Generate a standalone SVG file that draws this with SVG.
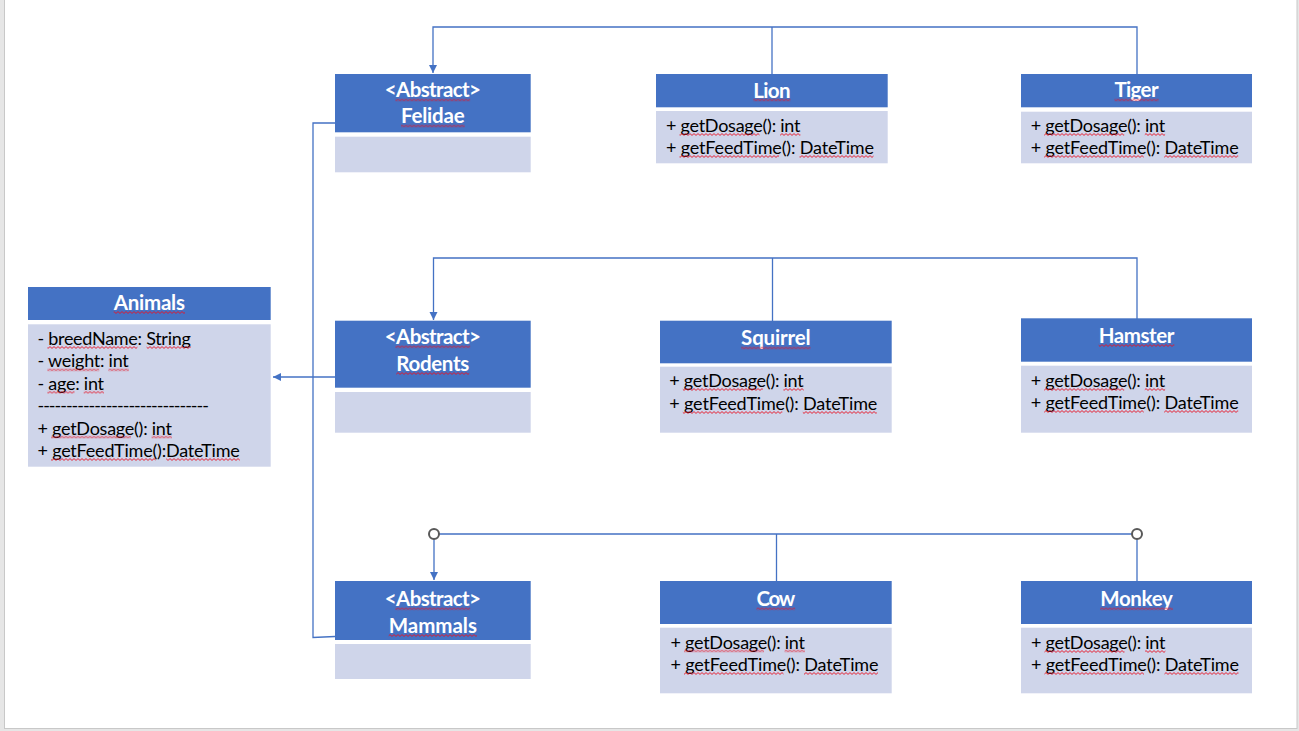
<svg xmlns="http://www.w3.org/2000/svg" width="1299" height="731" viewBox="0 0 1299 731">
<style>
.hd{fill:#4472C4}
.bd{fill:#CFD5EA}
.t{font-family:Lato,'Liberation Sans',sans-serif;font-size:20.5px;font-weight:bold;fill:#FFFFFF;text-anchor:middle}
.b{font-family:Lato,'Liberation Sans',sans-serif;font-size:18px;fill:#000000}
.c{fill:none;stroke:#4472C4;stroke-width:1.3}
.sq{fill:url(#wav)}
.ring{fill:#FFFFFF;stroke:#595959;stroke-width:2}
</style>
<defs>
<pattern id="wav" patternUnits="userSpaceOnUse" width="4" height="3">
<path d="M0,2.4 L2,0.6 L4,2.4" fill="none" stroke="#E81123" stroke-width="0.9"/>
</pattern>
<marker id="arr" markerUnits="userSpaceOnUse" markerWidth="9" markerHeight="9" refX="8" refY="4" orient="auto">
<path d="M0,0 L8,4 L0,8 z" fill="#4472C4"/>
</marker>
</defs>
<rect x="0" y="0" width="1299" height="731" fill="#E6E6E6"/>
<rect x="4.5" y="-2" width="1292.5" height="730.5" fill="#FFFFFF" stroke="#C8C8C8" stroke-width="1"/>

<g id="connectors">
<path class="c" d="M772,74 V27"/>
<path class="c" d="M1137,74 V27 H433 V73" marker-end="url(#arr)"/>
<path class="c" d="M772.5,321 V258"/>
<path class="c" d="M1137,319 V258 H433.5 V320" marker-end="url(#arr)"/>
<path class="c" d="M776.5,582 V534"/>
<path class="c" d="M1137,582 V534 H434 V580" marker-end="url(#arr)"/>
<path class="c" d="M335,123 H313 V637.5 L335,636.5"/>
<path class="c" d="M335,377 H273" marker-end="url(#arr)"/>
<circle class="ring" cx="434" cy="534" r="5"/>
<circle class="ring" cx="1137" cy="534" r="5"/>
</g>

<g id="animals">
<rect class="hd" x="28" y="287" width="242.7" height="33"/>
<rect class="bd" x="28" y="324.3" width="242.7" height="142.4"/>
<text class="t" x="149.3" y="310" textLength="71.3">Animals</text>
<text class="b" x="37.5" y="345" textLength="153.3">- breedName: String</text>
<text class="b" x="37.5" y="367.4" textLength="91.3">- weight: int</text>
<text class="b" x="37.5" y="389.8" textLength="66.5">- age: int</text>
<text class="b" x="37.5" y="412.2" textLength="171.4">------------------------------</text>
<text class="b" x="37.5" y="434.6" textLength="134.4">+ getDosage(): int</text>
<text class="b" x="37.5" y="457" textLength="202.3">+ getFeedTime():DateTime</text>
<rect class="sq" x="113.7" y="0" width="71.3" height="3" transform="translate(0,311)"/>
<rect class="sq" x="47.4" y="0" width="90" height="3" transform="translate(0,346)"/>
<rect class="sq" x="146.6" y="0" width="44.2" height="3" transform="translate(0,346)"/>
<rect class="sq" x="47.4" y="0" width="51.8" height="3" transform="translate(0,368.4)"/>
<rect class="sq" x="108.4" y="0" width="20.4" height="3" transform="translate(0,368.4)"/>
<rect class="sq" x="47.4" y="0" width="27.1" height="3" transform="translate(0,390.8)"/>
<rect class="sq" x="83.7" y="0" width="20.3" height="3" transform="translate(0,390.8)"/>
<rect class="sq" x="51" y="0" width="80" height="3" transform="translate(0,435.6)"/>
<rect class="sq" x="151.6" y="0" width="20.3" height="3" transform="translate(0,435.6)"/>
<rect class="sq" x="51" y="0" width="104.5" height="3" transform="translate(0,458)"/>
<rect class="sq" x="166.2" y="0" width="73.6" height="3" transform="translate(0,458)"/>
</g>

<g id="felidae">
<rect class="hd" x="335" y="74" width="195.7" height="58.3"/>
<rect class="bd" x="335" y="136.7" width="195.7" height="35.6"/>
<text class="t" x="432.8" y="97.3" textLength="96">&lt;Abstract&gt;</text>
<text class="t" x="432.8" y="123.3" textLength="63.7">Felidae</text>
<rect class="sq" x="395.4" y="0" width="74.8" height="3" transform="translate(0,98.5)"/>
<rect class="sq" x="401" y="0" width="63.7" height="3" transform="translate(0,124.5)"/>
</g>

<g id="lion">
<rect class="hd" x="656" y="74" width="231.7" height="33.3"/>
<rect class="bd" x="656" y="111" width="231.7" height="52.3"/>
<text class="t" x="771.9" y="97.5" textLength="37.2">Lion</text>
<text class="b" x="666" y="132" textLength="134.4">+ getDosage(): int</text>
<text class="b" x="666" y="154" textLength="208">+ getFeedTime(): DateTime</text>
<rect class="sq" x="753.3" y="0" width="37.2" height="3" transform="translate(0,98.5)"/>
<rect class="sq" x="679.5" y="0" width="80" height="3" transform="translate(0,133)"/>
<rect class="sq" x="780.1" y="0" width="20.3" height="3" transform="translate(0,133)"/>
<rect class="sq" x="679.5" y="0" width="99.5" height="3" transform="translate(0,155)"/>
<rect class="sq" x="799.5" y="0" width="74" height="3" transform="translate(0,155)"/>
</g>

<g id="tiger">
<rect class="hd" x="1021" y="74" width="231" height="33.3"/>
<rect class="bd" x="1021" y="111.7" width="231" height="51.6"/>
<text class="t" x="1136.5" y="97.3" textLength="44.2">Tiger</text>
<text class="b" x="1030.7" y="132" textLength="134.4">+ getDosage(): int</text>
<text class="b" x="1030.7" y="154" textLength="208">+ getFeedTime(): DateTime</text>
<rect class="sq" x="1114.4" y="0" width="44.2" height="3" transform="translate(0,98.5)"/>
<rect class="sq" x="1044.2" y="0" width="80" height="3" transform="translate(0,133)"/>
<rect class="sq" x="1144.8" y="0" width="20.3" height="3" transform="translate(0,133)"/>
<rect class="sq" x="1044.2" y="0" width="99.5" height="3" transform="translate(0,155)"/>
<rect class="sq" x="1164.2" y="0" width="74" height="3" transform="translate(0,155)"/>
</g>

<g id="rodents">
<rect class="hd" x="335" y="320.7" width="195.7" height="67"/>
<rect class="bd" x="335" y="392" width="195.7" height="40.7"/>
<text class="t" x="432.8" y="344" textLength="96">&lt;Abstract&gt;</text>
<text class="t" x="432.8" y="370.7" textLength="73">Rodents</text>
<rect class="sq" x="395.4" y="0" width="74.8" height="3" transform="translate(0,345.3)"/>
<rect class="sq" x="396.3" y="0" width="73" height="3" transform="translate(0,372)"/>
</g>

<g id="squirrel">
<rect class="hd" x="660" y="320.7" width="231.7" height="42.6"/>
<rect class="bd" x="660" y="366.7" width="231.7" height="66"/>
<text class="t" x="775.8" y="345" textLength="69.4">Squirrel</text>
<text class="b" x="669.3" y="387" textLength="134.4">+ getDosage(): int</text>
<text class="b" x="669.3" y="410" textLength="208">+ getFeedTime(): DateTime</text>
<rect class="sq" x="741.1" y="0" width="69.4" height="3" transform="translate(0,346.5)"/>
<rect class="sq" x="682.8" y="0" width="80" height="3" transform="translate(0,388)"/>
<rect class="sq" x="783.4" y="0" width="20.3" height="3" transform="translate(0,388)"/>
<rect class="sq" x="682.8" y="0" width="99.5" height="3" transform="translate(0,411)"/>
<rect class="sq" x="802.8" y="0" width="74" height="3" transform="translate(0,411)"/>
</g>

<g id="hamster">
<rect class="hd" x="1021" y="318.3" width="231" height="43.4"/>
<rect class="bd" x="1021" y="365.7" width="231" height="67"/>
<text class="t" x="1136.5" y="342.7" textLength="75.6">Hamster</text>
<text class="b" x="1030.7" y="387" textLength="134.4">+ getDosage(): int</text>
<text class="b" x="1030.7" y="409" textLength="208">+ getFeedTime(): DateTime</text>
<rect class="sq" x="1098.7" y="0" width="75.6" height="3" transform="translate(0,344)"/>
<rect class="sq" x="1044.2" y="0" width="80" height="3" transform="translate(0,388)"/>
<rect class="sq" x="1144.8" y="0" width="20.3" height="3" transform="translate(0,388)"/>
<rect class="sq" x="1044.2" y="0" width="99.5" height="3" transform="translate(0,410)"/>
<rect class="sq" x="1164.2" y="0" width="74" height="3" transform="translate(0,410)"/>
</g>

<g id="mammals">
<rect class="hd" x="335" y="581" width="195.7" height="59"/>
<rect class="bd" x="335" y="644" width="195.7" height="35"/>
<text class="t" x="432.8" y="606" textLength="96">&lt;Abstract&gt;</text>
<text class="t" x="432.8" y="632.7" textLength="88.2">Mammals</text>
<rect class="sq" x="395.4" y="0" width="74.8" height="3" transform="translate(0,607.3)"/>
<rect class="sq" x="388.7" y="0" width="88.2" height="3" transform="translate(0,634)"/>
</g>

<g id="cow">
<rect class="hd" x="660" y="581" width="231.7" height="43"/>
<rect class="bd" x="660" y="627.7" width="231.7" height="65.6"/>
<text class="t" x="775.8" y="606" textLength="38.7">Cow</text>
<text class="b" x="670.5" y="648.5" textLength="134.4">+ getDosage(): int</text>
<text class="b" x="670.5" y="671" textLength="208">+ getFeedTime(): DateTime</text>
<rect class="sq" x="756.5" y="0" width="38.7" height="3" transform="translate(0,607.3)"/>
<rect class="sq" x="684" y="0" width="80" height="3" transform="translate(0,649.5)"/>
<rect class="sq" x="784.6" y="0" width="20.3" height="3" transform="translate(0,649.5)"/>
<rect class="sq" x="684" y="0" width="99.5" height="3" transform="translate(0,672)"/>
<rect class="sq" x="804" y="0" width="74" height="3" transform="translate(0,672)"/>
</g>

<g id="monkey">
<rect class="hd" x="1021" y="581" width="231" height="43"/>
<rect class="bd" x="1021" y="627.7" width="231" height="65.6"/>
<text class="t" x="1136.5" y="606" textLength="72.7">Monkey</text>
<text class="b" x="1031" y="649" textLength="134.4">+ getDosage(): int</text>
<text class="b" x="1031" y="671" textLength="208">+ getFeedTime(): DateTime</text>
<rect class="sq" x="1100.2" y="0" width="72.7" height="3" transform="translate(0,607.3)"/>
<rect class="sq" x="1044.5" y="0" width="80" height="3" transform="translate(0,650)"/>
<rect class="sq" x="1145.1" y="0" width="20.3" height="3" transform="translate(0,650)"/>
<rect class="sq" x="1044.5" y="0" width="99.5" height="3" transform="translate(0,672)"/>
<rect class="sq" x="1164.5" y="0" width="74" height="3" transform="translate(0,672)"/>
</g>
</svg>
